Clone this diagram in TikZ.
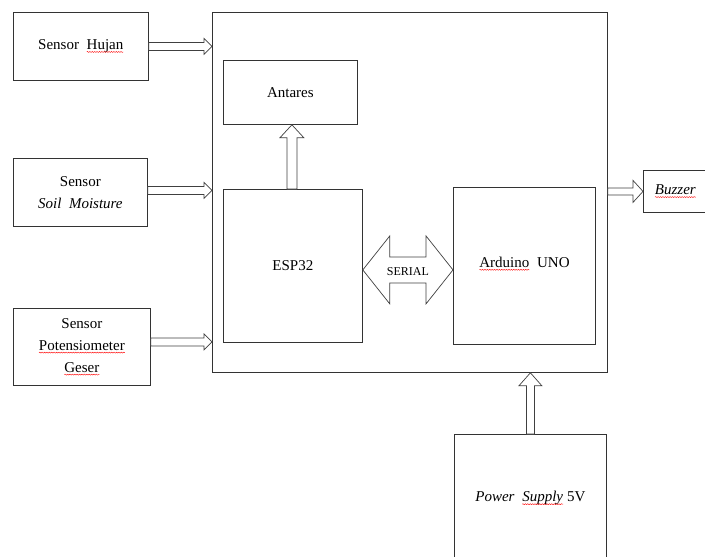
\documentclass[tikz,border=0pt]{standalone}
\usepackage{fontspec}
\setmainfont{Liberation Serif}
\usetikzlibrary{calc,decorations.pathmorphing}
\newcommand\sq[1]{\tikz[baseline=(w.base)]{\node[inner sep=0pt,outer sep=0pt,minimum width=0pt,minimum height=0pt,draw=none,anchor=base,align=left](w){#1};\draw[red,line width=0.4pt,decorate,decoration={snake,amplitude=0.5pt,segment length=2.4pt}]([yshift=-2.2pt]w.base west)--([yshift=-2.2pt]w.base east);}}
\newcommand\harr[5]{\draw[blk] let \p1=(#1), \p2=(#2) in (\x1,{\y1+#3pt}) -- ({\x2-#5pt},{\y1+#3pt}) -- ({\x2-#5pt},{\y1+#4pt}) -- (\x2,\y1) -- ({\x2-#5pt},{\y1-#4pt}) -- ({\x2-#5pt},{\y1-#3pt}) -- (\x1,{\y1-#3pt}) -- cycle;}
\newcommand\varr[5]{\draw[blk] let \p1=(#1), \p2=(#2) in ({\x1-#3pt},\y1) -- ({\x1-#3pt},{\y2-#5pt}) -- ({\x1-#4pt},{\y2-#5pt}) -- (\x1,\y2) -- ({\x1+#4pt},{\y2-#5pt}) -- ({\x1+#3pt},{\y2-#5pt}) -- ({\x1+#3pt},\y1) -- cycle;}
\tikzset{
  box/.style={draw=black!80, line width=0.8pt, anchor=north west, inner sep=0pt, align=center, font=\fontsize{15}{22}\selectfont},
  blk/.style={draw=black!75, line width=0.7pt, fill=white, line join=miter},
}
\begin{document}
\begin{tikzpicture}[x=1pt,y=-1pt]
\useasboundingbox (0,0) rectangle (705,557);
\node[box, minimum width=395, minimum height=360] (main) at (212,12) {};
\node[box, minimum width=135, minimum height=68] (hujan) at (13,12) {Sensor\ \ \sq{Hujan}};
\node[box, minimum width=134, minimum height=68] (soil) at (13,158) {Sensor\\\textit{Soil\ \ Moisture}};
\node[box, minimum width=137, minimum height=77] (pot) at (13,308) {Sensor\\\sq{Potensiometer}\\\sq{Geser}};
\node[box, minimum width=134, minimum height=64] (antares) at (223,60) {Antares};
\node[box, minimum width=139, minimum height=153] (esp) at (223,189) {\raisebox{-5pt}{ESP32}};
\node[box, minimum width=142, minimum height=157] (ard) at (453,187) {\raisebox{7pt}{\sq{Arduino}\ \ UNO}};
\node[box, minimum width=64, minimum height=42] (buzzer) at (643,170) {\textit{\sq{Buzzer}}};
\node[box, minimum width=152, minimum height=128] (power) at (454,434) {\textit{Power\ \ \sq{Supply}}\ 5V};
% input arrows
\harr{hujan.east}{main.west |- hujan.east}{4}{8}{8}
\harr{$(soil.east)+(0,-2)$}{$(main.west |- soil.east)+(0,-2)$}{4}{8}{8}
\harr{$(pot.east)+(0,-5)$}{$(main.west |- pot.east)+(0,-5)$}{4}{8}{8}
% output arrow
\harr{main.east |- buzzer.west}{buzzer.west}{3.5}{11}{10}
% vertical arrows
\varr{$(esp.north)+(-1,0)$}{$(antares.south)+(1,0)$}{5}{12}{13}
\varr{power.north}{main.south -| power.north}{4}{11.5}{13}
% serial double arrow
\draw[blk] let \p1=($(esp.east)+(0,4)$), \p2=($(ard.west |- esp.east)+(0,4)$) in
  (\x1,\y1) -- ({\x1+27pt},{\y1+34pt}) -- ({\x1+27pt},{\y1+13pt}) -- ({\x2-27pt},{\y1+13pt}) -- ({\x2-27pt},{\y1+34pt}) -- (\x2,\y1)
  -- ({\x2-27pt},{\y1-34pt}) -- ({\x2-27pt},{\y1-13pt}) -- ({\x1+27pt},{\y1-13pt}) -- ({\x1+27pt},{\y1-34pt}) -- cycle;
\node[font=\fontsize{12}{14}\selectfont, inner sep=1pt] (serial) at ($(esp.east)!0.5!(ard.west |- esp.east)+(0,6)$) {SERIAL};
\end{tikzpicture}
\end{document}
